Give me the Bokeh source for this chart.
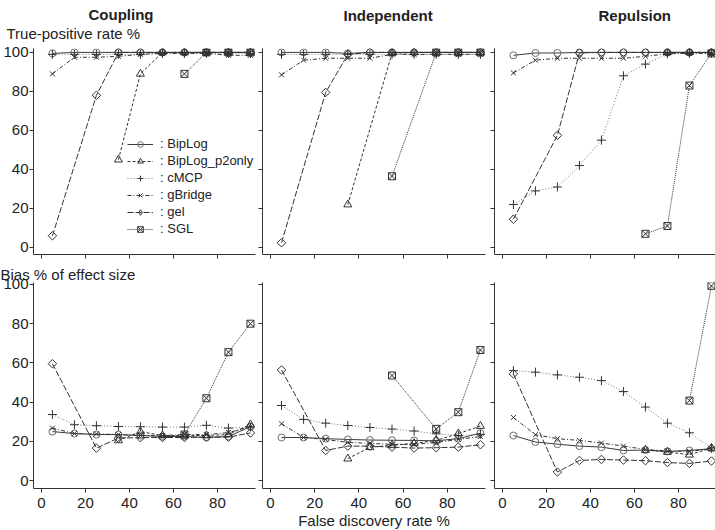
import math
from bokeh.plotting import figure
from bokeh.layouts import column, row
from bokeh.models import (Title, Legend, LegendItem, FixedTicker,
                          CustomJSTickFormatter, Range1d)
from bokeh.core.properties import value
from bokeh.embed import file_html
from bokeh.resources import INLINE

FONT = "Liberation Sans"

# ---------------- data ----------------
fdr = [5, 15, 25, 35, 45, 55, 65, 75, 85, 95]
x_ticks = [0, 20, 40, 60, 80]
y_ticks = [0, 20, 40, 60, 80, 100]
methods = ["BipLog", "BipLog_p2only", "cMCP", "gBridge", "gel", "SGL"]
scenarios = ["Coupling", "Independent", "Repulsion"]

# True-positive rate %
tpr_coupling_biplog = [99.5, 100, 100, 100, 100, 100, 100, 100, 100, 100]
tpr_coupling_p2only = [None, None, None, 45, 89, 100, 100, 100, 100, 100]
tpr_coupling_cmcp = [99, 99, 99, 99, 99, 99.5, 99.5, 99.5, 99.5, 99.5]
tpr_coupling_gbridge = [89, 97.5, 97.5, 98, 99, 99.5, 99.5, 99.5, 98.5, 98.5]
tpr_coupling_gel = [6, None, 78, 100, 100, 100, 100, 100, 100, 100]
tpr_coupling_sgl = [None, None, None, None, None, None, 89, 100, 100, 100]

tpr_independent_biplog = [100, 100, 100, 99.5, 100, 100, 100, 100, 100, 100]
tpr_independent_p2only = [None, None, None, 22, None, 99.5, 100, 100, 100, 100]
tpr_independent_cmcp = [99, 99, 99, 99, 99, 99, 99, 99, 99, 99]
tpr_independent_gbridge = [88.5, 96, 97, 97, 97, 99, 99, 99, 99, 99]
tpr_independent_gel = [2.4, None, 79.5, 99, 100, 100, 100, 100, 100, 100]
tpr_independent_sgl = [None, None, None, None, None, 36.5, None, 100, 100, 100]

tpr_repulsion_biplog = [98.5, 99.7, 99.7, 100, 100, 100, 100, 100, 100, 100]
tpr_repulsion_p2only = [None, None, None, None, None, None, None, 100, 100, 100]
tpr_repulsion_cmcp = [22, 29, 31, 42, 55, 88, 94, 99.3, 99.5, 99.5]
tpr_repulsion_gbridge = [89.5, 96, 97, 97, 97, 97, 98, 99.3, 99.5, 99.5]
tpr_repulsion_gel = [14.5, None, 57.5, 99.7, 100, 100, 100, 100, 100, 100]
tpr_repulsion_sgl = [None, None, None, None, None, None, 7, 11, 83, 99.5]

# Bias % of effect size
bias_coupling_biplog = [25, 24, 23.5, 23.5, 23, 22.5, 22.5, 22, 22.5, 27.5]
bias_coupling_p2only = [None, None, None, 20.5, 25, 23, 23, 23, 23.5, 28.6]
bias_coupling_cmcp = [33.7, 28.5, 28, 27.6, 27.5, 27.3, 27.3, 28.2, 26.8, 27.3]
bias_coupling_gbridge = [26.8, 24, 23.8, 23.5, 23, 23, 23.5, 23.5, 24.5, 27.5]
bias_coupling_gel = [59.6, None, 16.6, 21.7, 21.9, 22, 22, 22.2, 22.2, 24.3]
bias_coupling_sgl = [None, None, None, None, None, None, 23.5, 42, 65.5, 80]

bias_independent_biplog = [22, 22, 21.4, 21, 20.7, 20.6, 20.5, 20.3, 21.4, 24.2]
bias_independent_p2only = [None, None, None, 11.2, 17, 18, 19, 20.5, 24, 27.8]
bias_independent_cmcp = [38.3, 31.2, 29.3, 28.1, 27.1, 26.3, 25.3, 23.9, 23, 23.6]
bias_independent_gbridge = [29, 22, 21, 19.5, 19, 18.5, 18.5, 19.5, 21, 22.5]
bias_independent_gel = [56.4, None, 15.4, 17.6, 17.6, 17.1, 16.6, 16.8, 17.1, 18.3]
bias_independent_sgl = [None, None, None, None, None, 53.6, None, 26.4, 34.9, 66.6]

bias_repulsion_biplog = [23, 19.7, 18.6, 17.6, 17.1, 15.4, 15.6, 14.9, 15.4, 16.3]
bias_repulsion_p2only = [None, None, None, None, None, None, 15.6, 14.6, 13.2, 16.6]
bias_repulsion_cmcp = [56.1, 55.3, 53.9, 52.7, 51, 45.4, 37.5, 29.3, 24.4, 16.6]
bias_repulsion_gbridge = [32.2, 23.4, 21.4, 20.5, 19.2, 17.6, 15.9, 15.1, 14.9, 16.3]
bias_repulsion_gel = [54.4, None, 4.4, 10.3, 10.8, 10.5, 10.2, 9.2, 8.8, 10]
bias_repulsion_sgl = [None, None, None, None, None, None, None, None, 40.8, 99.3]

tpr_panels = [
    [tpr_coupling_biplog, tpr_coupling_p2only, tpr_coupling_cmcp,
     tpr_coupling_gbridge, tpr_coupling_gel, tpr_coupling_sgl],
    [tpr_independent_biplog, tpr_independent_p2only, tpr_independent_cmcp,
     tpr_independent_gbridge, tpr_independent_gel, tpr_independent_sgl],
    [tpr_repulsion_biplog, tpr_repulsion_p2only, tpr_repulsion_cmcp,
     tpr_repulsion_gbridge, tpr_repulsion_gel, tpr_repulsion_sgl],
]
bias_panels = [
    [bias_coupling_biplog, bias_coupling_p2only, bias_coupling_cmcp,
     bias_coupling_gbridge, bias_coupling_gel, bias_coupling_sgl],
    [bias_independent_biplog, bias_independent_p2only, bias_independent_cmcp,
     bias_independent_gbridge, bias_independent_gel, bias_independent_sgl],
    [bias_repulsion_biplog, bias_repulsion_p2only, bias_repulsion_cmcp,
     bias_repulsion_gbridge, bias_repulsion_gel, bias_repulsion_sgl],
]

# ---------------- styles ----------------
styles = {
    "BipLog":        dict(marker="circle",   size=7, angle=0,         dash="solid",   lc="#3a3a3a", mc="#6e6e6e"),
    "BipLog_p2only": dict(marker="triangle", size=8, angle=0,         dash="3 2",     lc="#333333", mc="#333333"),
    "cMCP":          dict(marker="cross",    size=9, angle=0,         dash="1 2",     lc="#777777", mc="#333333"),
    "gBridge":       dict(marker="x",        size=7, angle=0,         dash="4 2 1 2", lc="#333333", mc="#333333"),
    "gel":           dict(marker="square",   size=6, angle=math.pi/4, dash="6 2",     lc="#333333", mc="#333333"),
    "SGL":           dict(marker="square_x", size=7, angle=0,         dash="1 1",     lc="#333333", mc="#333333"),
}

AX = "#333333"
TXT = "#222222"
FRAME_H = 206

col_geom = [  # frame_width, border_left, border_right
    (222, 30, 3),
    (223, 4, 5),
    (222, 4, 2),
]


def blank_labels(axis):
    axis.formatter = CustomJSTickFormatter(code="return ''")
    axis.major_label_text_font_size = "0px"
    axis.major_label_standoff = 0


def make_panel(ci, series, yr, top_row):
    fw, bl, br = col_geom[ci]
    if top_row:
        bt, bb = 48, 9
    else:
        bt, bb = 17, 42
    p = figure(frame_width=fw, frame_height=FRAME_H,
               x_range=Range1d(-3.6, 97.3), y_range=Range1d(*yr),
               output_backend="svg", toolbar_location=None, title=None,
               min_border_left=bl, min_border_right=br,
               min_border_top=bt, min_border_bottom=bb)
    p.outline_line_color = None
    p.background_fill_color = "white"
    p.border_fill_color = "white"
    p.xgrid.visible = False
    p.ygrid.visible = False
    for ax in (p.xaxis[0], p.yaxis[0]):
        ax.axis_line_color = AX
        ax.major_tick_line_color = AX
        ax.minor_tick_line_color = None
        ax.major_tick_out = 4
        ax.major_tick_in = 0
        ax.major_label_text_font = FONT
        ax.major_label_text_font_size = "15px"
        ax.major_label_text_color = TXT
    p.xaxis.ticker = FixedTicker(ticks=x_ticks)
    p.yaxis.ticker = FixedTicker(ticks=y_ticks)
    p.yaxis.major_label_standoff = 1
    p.xaxis.major_label_standoff = 5
    if top_row:
        blank_labels(p.xaxis[0])
    if ci != 0:
        blank_labels(p.yaxis[0])

    rends = []
    for m, ys in zip(methods, series):
        st = styles[m]
        xx = [x for x, y in zip(fdr, ys) if y is not None]
        yy = [y for y in ys if y is not None]
        ln = p.line(xx, yy, line_color=st["lc"], line_width=1, line_dash=st["dash"])
        sc = p.scatter(xx, yy, marker=st["marker"], size=st["size"], angle=st["angle"],
                       line_color=st["mc"], fill_color=None, line_width=1)
        rends.append((m, ln, sc, xx, yy))
    return p, rends


top = []
bottom = []
for ci in range(3):
    p, rends = make_panel(ci, tpr_panels[ci], (-3.6, 102), True)
    top.append((p, rends))
    q, _ = make_panel(ci, bias_panels[ci], (-4, 101), False)
    bottom.append(q)

# legend in first panel (gel key: hidden diamond-marker copy of the gel series)
p1, rends1 = top[0]
items = []
for m, ln, sc, xx, yy in rends1:
    key = sc
    if m == "gel":
        key = p1.scatter(xx, yy, marker="diamond", size=10, line_color="#333333",
                         fill_color=None, line_width=1, visible=False)
    items.append(LegendItem(label=value(": " + m), renderers=[ln, key]))
leg = Legend(items=items, location=(94, 18), margin=0, padding=0,
             glyph_width=26, glyph_height=14, label_height=14, spacing=2,
             label_standoff=7, label_text_font=FONT, label_text_font_size="13px",
             label_text_color=TXT, border_line_color=None, background_fill_alpha=0,
             inactive_fill_alpha=0)
p1.add_layout(leg)


# titles and row labels (first added sits nearest the frame)
def add_title(p, text, offset, standoff, pad_bottom, bold):
    t = Title(text=text, align="left", offset=offset, standoff=standoff,
              padding=dict(left=0, right=0, top=0, bottom=pad_bottom),
              text_font=FONT, text_font_size="15px",
              text_font_style="bold" if bold else "normal", text_color=TXT)
    p.add_layout(t, "above")


add_title(top[0][0], "True-positive  rate %", -27, 0, 7, False)
add_title(top[0][0], "Coupling", 55, 0, 0, True)
add_title(top[1][0], "Independent", 81, 0, 25, True)
add_title(top[2][0], "Repulsion", 104, 0, 25, True)
add_title(bottom[0], "Bias % of effect size", -33, 0, 0, False)

bottom[1].xaxis.axis_label = "False discovery rate %"
bottom[1].xaxis.axis_label_text_font = FONT
bottom[1].xaxis.axis_label_text_font_size = "15px"
bottom[1].xaxis.axis_label_text_font_style = "normal"
bottom[1].xaxis.axis_label_text_color = TXT
bottom[1].xaxis.axis_label_standoff = 1

layout = column(row(*[t[0] for t in top]), row(*bottom))
open("out.html", "w").write(file_html(layout, INLINE))
